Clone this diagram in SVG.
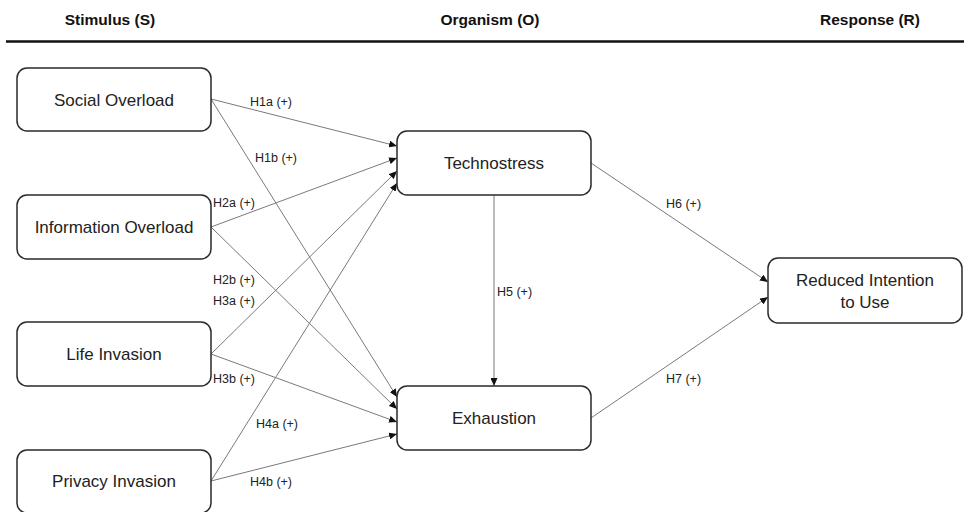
<svg xmlns="http://www.w3.org/2000/svg" width="964" height="512" viewBox="0 0 964 512">
<style>
.hdr{font-family:"Liberation Sans",Arial,sans-serif;font-weight:bold;font-size:15.5px;fill:#111;text-anchor:middle}
.box{fill:#fff;stroke:#2a2a2a;stroke-width:1.5}
.nt{font-family:"Liberation Sans",Arial,sans-serif;font-size:17px;fill:#222;text-anchor:middle}
.lb{font-family:"Liberation Sans",Arial,sans-serif;font-size:12.5px;fill:#222}
.cn{stroke:#7a7a7a;stroke-width:1;fill:none;marker-end:url(#ah)}
</style>
<defs>
<marker id="ah" markerUnits="userSpaceOnUse" markerWidth="8" markerHeight="7" refX="8" refY="3.5" orient="auto">
<path d="M0,0 L8,3.5 L0,7 z" fill="#111"/>
</marker>
</defs>
<rect width="964" height="512" fill="#fff"/>
<g id="header">
<text class="hdr" x="110" y="25">Stimulus (S)</text>
<text class="hdr" x="490" y="25">Organism (O)</text>
<text class="hdr" x="870" y="25">Response (R)</text>
<line x1="6" y1="41.5" x2="964" y2="41.5" stroke="#111" stroke-width="2.5"/>
</g>
<g id="connectors">
<line class="cn" x1="211" y1="99" x2="397" y2="146"/>
<line class="cn" x1="211" y1="99" x2="397" y2="397"/>
<line class="cn" x1="211" y1="227" x2="397" y2="158"/>
<line class="cn" x1="211" y1="227" x2="397" y2="409"/>
<line class="cn" x1="211" y1="354" x2="397" y2="171"/>
<line class="cn" x1="211" y1="354" x2="397" y2="422"/>
<line class="cn" x1="211" y1="481" x2="397" y2="183"/>
<line class="cn" x1="211" y1="481" x2="397" y2="434"/>
<line class="cn" x1="494" y1="195" x2="494" y2="386"/>
<line class="cn" x1="591" y1="163" x2="768" y2="282"/>
<line class="cn" x1="591" y1="418" x2="768" y2="297"/>
<text class="lb" x="250" y="106">H1a (+)</text>
<text class="lb" x="255" y="162">H1b (+)</text>
<text class="lb" x="213" y="207">H2a (+)</text>
<text class="lb" x="213" y="284">H2b (+)</text>
<text class="lb" x="213" y="305">H3a (+)</text>
<text class="lb" x="213" y="383">H3b (+)</text>
<text class="lb" x="256" y="428">H4a (+)</text>
<text class="lb" x="250" y="486">H4b (+)</text>
<text class="lb" x="497" y="296">H5 (+)</text>
<text class="lb" x="666" y="208">H6 (+)</text>
<text class="lb" x="666" y="383">H7 (+)</text>
</g>
<g id="social-overload">
<rect class="box" x="17" y="68" width="194" height="63" rx="10"/>
<text class="nt" x="114" y="105.5">Social Overload</text>
</g>
<g id="information-overload">
<rect class="box" x="17" y="195" width="194" height="64" rx="10"/>
<text class="nt" x="114" y="233">Information Overload</text>
</g>
<g id="life-invasion">
<rect class="box" x="17" y="322" width="194" height="64" rx="10"/>
<text class="nt" x="114" y="360">Life Invasion</text>
</g>
<g id="privacy-invasion">
<rect class="box" x="17" y="450" width="194" height="63" rx="10"/>
<text class="nt" x="114" y="487">Privacy Invasion</text>
</g>
<g id="technostress">
<rect class="box" x="397" y="131" width="194" height="64" rx="10"/>
<text class="nt" x="494" y="169">Technostress</text>
</g>
<g id="exhaustion">
<rect class="box" x="397" y="386" width="194" height="64" rx="10"/>
<text class="nt" x="494" y="424">Exhaustion</text>
</g>
<g id="reduced-intention">
<rect class="box" x="768" y="258" width="194" height="65" rx="10"/>
<text class="nt" x="865" y="286">Reduced Intention</text>
<text class="nt" x="865" y="308">to Use</text>
</g>
</svg>
